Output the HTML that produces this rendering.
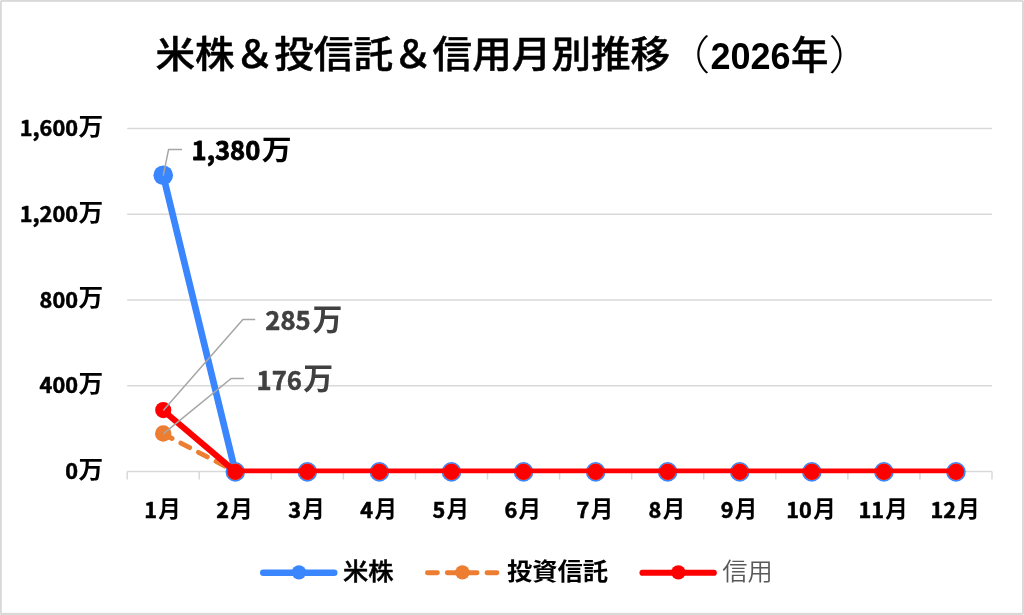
<!DOCTYPE html>
<html lang="ja">
<head>
<meta charset="utf-8">
<title>米株＆投信託＆信用月別推移（2026年）</title>
<style>
html,body{margin:0;padding:0;background:#fff;}
body{width:1024px;height:615px;overflow:hidden;}
svg{display:block;}
text{font-family:"Liberation Sans","Noto Sans CJK JP",sans-serif;}
.num{font-family:"Noto Sans CJK JP","Liberation Sans",sans-serif;}
.tc{font-size:39.6px;font-weight:500;fill:#000;stroke:#000;stroke-width:0.5px;stroke-linejoin:round;}
.tp{font-size:39.6px;font-weight:300;fill:#000;}
.tc2{font-size:37.4px;font-weight:500;fill:#000;stroke:#000;stroke-width:0.5px;stroke-linejoin:round;}
.tn{font-size:36px;font-weight:700;fill:#000;}
.ax{font-weight:700;fill:#000;}
.axn{font-size:21.7px;font-weight:700;stroke:#000;stroke-width:0.55px;stroke-linejoin:round;}
.axc{font-size:24.7px;}
.axm{font-size:22.6px;}
.dl{font-weight:700;}
.dln{font-size:25.6px;font-weight:700;stroke-linejoin:round;}
.dlc{font-size:29.9px;}
.lg{font-size:25.3px;}
</style>
</head>
<body>
<svg width="1024" height="615" viewBox="0 0 1024 615">
<rect x="0" y="0" width="1024" height="615" fill="#fff"/>
<rect x="0" y="0" width="1024" height="615" rx="1.6" fill="#D9D9D9"/>
<rect x="1.87" y="1.87" width="1020.13" height="610.93" fill="#fff"/>
<defs><clipPath id="pc"><rect x="125.2" y="100" width="868.8" height="373.30"/></clipPath><clipPath id="pc2"><rect x="125.2" y="100" width="114.10" height="373.30"/></clipPath></defs>
<g><text class="tc" transform="translate(155.50,68.10) scale(1,0.945)">米株＆投信託＆信用月別推移</text><text class="tp" transform="translate(664.80,69.60) scale(1.15,1.03)">（</text><text class="tn" x="710.40" y="69.00">2026</text><text class="tc2" transform="translate(791.00,68.80) scale(1,1.035)">年</text><text class="tp" transform="translate(828.40,69.60) scale(1.15,1.03)">）</text></g>
<g stroke="#D9D9D9" stroke-width="1.5" fill="none">
<line x1="127.2" y1="128.50" x2="992.0" y2="128.50"/>
<line x1="127.2" y1="214.28" x2="992.0" y2="214.28"/>
<line x1="127.2" y1="300.05" x2="992.0" y2="300.05"/>
<line x1="127.2" y1="385.83" x2="992.0" y2="385.83"/>
<line x1="127.2" y1="471.60" x2="992.0" y2="471.60"/>
<line x1="127.20" y1="471.6" x2="127.20" y2="479.5"/>
<line x1="199.27" y1="471.6" x2="199.27" y2="479.5"/>
<line x1="271.33" y1="471.6" x2="271.33" y2="479.5"/>
<line x1="343.40" y1="471.6" x2="343.40" y2="479.5"/>
<line x1="415.47" y1="471.6" x2="415.47" y2="479.5"/>
<line x1="487.53" y1="471.6" x2="487.53" y2="479.5"/>
<line x1="559.60" y1="471.6" x2="559.60" y2="479.5"/>
<line x1="631.67" y1="471.6" x2="631.67" y2="479.5"/>
<line x1="703.73" y1="471.6" x2="703.73" y2="479.5"/>
<line x1="775.80" y1="471.6" x2="775.80" y2="479.5"/>
<line x1="847.87" y1="471.6" x2="847.87" y2="479.5"/>
<line x1="919.93" y1="471.6" x2="919.93" y2="479.5"/>
<line x1="992.00" y1="471.6" x2="992.00" y2="479.5"/>
</g>
<g><text class="num ax axn" x="78.00" y="136.10" text-anchor="end">1,600</text><text class="ax axc" transform="translate(78.60,134.80) scale(1,0.95)">万</text></g>
<g><text class="num ax axn" x="78.00" y="221.88" text-anchor="end">1,200</text><text class="ax axc" transform="translate(78.60,220.58) scale(1,0.95)">万</text></g>
<g><text class="num ax axn" x="78.00" y="307.65" text-anchor="end">800</text><text class="ax axc" transform="translate(78.60,306.35) scale(1,0.95)">万</text></g>
<g><text class="num ax axn" x="78.00" y="393.43" text-anchor="end">400</text><text class="ax axc" transform="translate(78.60,392.13) scale(1,0.95)">万</text></g>
<g><text class="num ax axn" x="78.00" y="479.20" text-anchor="end">0</text><text class="ax axc" transform="translate(78.60,477.90) scale(1,0.95)">万</text></g>
<g><text class="num ax axn" x="144.13" y="518.20">1</text><text class="ax axm" x="158.23" y="517.10">月</text></g>
<g><text class="num ax axn" x="216.20" y="518.20">2</text><text class="ax axm" x="230.30" y="517.10">月</text></g>
<g><text class="num ax axn" x="288.27" y="518.20">3</text><text class="ax axm" x="302.37" y="517.10">月</text></g>
<g><text class="num ax axn" x="360.33" y="518.20">4</text><text class="ax axm" x="374.43" y="517.10">月</text></g>
<g><text class="num ax axn" x="432.40" y="518.20">5</text><text class="ax axm" x="446.50" y="517.10">月</text></g>
<g><text class="num ax axn" x="504.47" y="518.20">6</text><text class="ax axm" x="518.57" y="517.10">月</text></g>
<g><text class="num ax axn" x="576.53" y="518.20">7</text><text class="ax axm" x="590.63" y="517.10">月</text></g>
<g><text class="num ax axn" x="648.60" y="518.20">8</text><text class="ax axm" x="662.70" y="517.10">月</text></g>
<g><text class="num ax axn" x="720.67" y="518.20">9</text><text class="ax axm" x="734.77" y="517.10">月</text></g>
<g><text class="num ax axn" x="786.33" y="518.20">10</text><text class="ax axm" x="813.24" y="517.10">月</text></g>
<g><text class="num ax axn" x="858.40" y="518.20">11</text><text class="ax axm" x="885.30" y="517.10">月</text></g>
<g><text class="num ax axn" x="930.46" y="518.20">12</text><text class="ax axm" x="957.37" y="517.10">月</text></g>
<polyline clip-path="url(#pc2)" points="163.23,175.68 235.30,471.60 307.37,471.60 379.43,471.60 451.50,471.60 523.57,471.60 595.63,471.60 667.70,471.60 739.77,471.60 811.83,471.60 883.90,471.60 955.97,471.60" fill="none" stroke="#3A86FF" stroke-width="6.7" stroke-linecap="round" stroke-linejoin="round"/>
<g fill="#3A86FF"><circle cx="163.23" cy="175.28" r="9.8"/><circle cx="235.30" cy="471.85" r="9.8"/><circle cx="307.37" cy="471.85" r="9.8"/><circle cx="379.43" cy="471.85" r="9.8"/><circle cx="451.50" cy="471.85" r="9.8"/><circle cx="523.57" cy="471.85" r="9.8"/><circle cx="595.63" cy="471.85" r="9.8"/><circle cx="667.70" cy="471.85" r="9.8"/><circle cx="739.77" cy="471.85" r="9.8"/><circle cx="811.83" cy="471.85" r="9.8"/><circle cx="883.90" cy="471.85" r="9.8"/><circle cx="955.97" cy="471.85" r="9.8"/></g>
<polyline clip-path="url(#pc2)" points="163.23,433.86 235.30,471.60 307.37,471.60 379.43,471.60 451.50,471.60 523.57,471.60 595.63,471.60 667.70,471.60 739.77,471.60 811.83,471.60 883.90,471.60 955.97,471.60" fill="none" stroke="#ED7D31" stroke-width="4.8" stroke-linecap="round" stroke-linejoin="round" stroke-dasharray="10 9.85"/>
<g fill="#ED7D31"><circle cx="163.23" cy="433.46" r="8.25"/><circle cx="235.30" cy="471.85" r="8.25"/><circle cx="307.37" cy="471.85" r="8.25"/><circle cx="379.43" cy="471.85" r="8.25"/><circle cx="451.50" cy="471.85" r="8.25"/><circle cx="523.57" cy="471.85" r="8.25"/><circle cx="595.63" cy="471.85" r="8.25"/><circle cx="667.70" cy="471.85" r="8.25"/><circle cx="739.77" cy="471.85" r="8.25"/><circle cx="811.83" cy="471.85" r="8.25"/><circle cx="883.90" cy="471.85" r="8.25"/><circle cx="955.97" cy="471.85" r="8.25"/></g>
<polyline clip-path="url(#pc)" points="163.23,410.49 235.30,471.60 307.37,471.60 379.43,471.60 451.50,471.60 523.57,471.60 595.63,471.60 667.70,471.60 739.77,471.60 811.83,471.60 883.90,471.60 955.97,471.60" fill="none" stroke="#FF0000" stroke-width="6.15" stroke-linecap="round" stroke-linejoin="round"/>
<g fill="#FF0000"><circle cx="163.23" cy="410.09" r="8.1"/><circle cx="235.30" cy="471.85" r="8.1"/><circle cx="307.37" cy="471.85" r="8.1"/><circle cx="379.43" cy="471.85" r="8.1"/><circle cx="451.50" cy="471.85" r="8.1"/><circle cx="523.57" cy="471.85" r="8.1"/><circle cx="595.63" cy="471.85" r="8.1"/><circle cx="667.70" cy="471.85" r="8.1"/><circle cx="739.77" cy="471.85" r="8.1"/><circle cx="811.83" cy="471.85" r="8.1"/><circle cx="883.90" cy="471.85" r="8.1"/><circle cx="955.97" cy="471.85" r="8.1"/></g>
<g stroke="#A6A6A6" stroke-width="1.5" fill="none">
<polyline points="163.23,175.68 168.6,149.4 182,149.4"/>
<polyline points="163.23,410.49 242.9,319.5 255.2,319.5"/>
<polyline points="163.23,433.86 231.2,378.4 243.9,378.4"/>
</g>
<g><text class="num dl dln" x="191.60" y="160.10" fill="#000" stroke="#000" stroke-width="0.8">1,380</text><text class="dl dlc" transform="translate(261.74,159.80) scale(1,0.95)" fill="#000">万</text></g>
<g><text class="num dl dln" x="265.30" y="330.40" fill="#404040" stroke="#404040" stroke-width="0.55">285</text><text class="dl dlc" transform="translate(312.41,329.90) scale(1,0.985)" fill="#404040">万</text></g>
<g><text class="num dl dln" x="256.60" y="389.50" fill="#404040" stroke="#404040" stroke-width="0.55">176</text><text class="dl dlc" transform="translate(303.31,389.00) scale(1,0.985)" fill="#404040">万</text></g>
<line x1="263.3" y1="572.75" x2="334.2" y2="572.75" stroke="#3A86FF" stroke-width="6.6" stroke-linecap="round"/><circle cx="298.95" cy="572.35" r="7.2" fill="#3A86FF"/>
<text class="lg" transform="translate(343.00,579.90) scale(1,0.95)" font-weight="500" fill="#000" stroke="#000" stroke-width="0.5" stroke-linejoin="round">米株</text>
<line x1="427.4" y1="572.75" x2="497" y2="572.75" stroke="#ED7D31" stroke-width="4.8" stroke-linecap="round" stroke-dasharray="10 9.85"/><circle cx="462.40" cy="572.35" r="7.2" fill="#ED7D31"/>
<text class="lg" transform="translate(507.00,579.80) scale(1,0.93)" font-weight="700" fill="#000">投資信託</text>
<line x1="642.5" y1="572.75" x2="713.8" y2="572.75" stroke="#FF0000" stroke-width="6.15" stroke-linecap="round"/><circle cx="678.35" cy="572.35" r="7.2" fill="#FF0000"/>
<text class="lg" transform="translate(722.20,579.60) scale(1,0.96)" font-weight="350" fill="#595959">信用</text>
</svg>
</body>
</html>
